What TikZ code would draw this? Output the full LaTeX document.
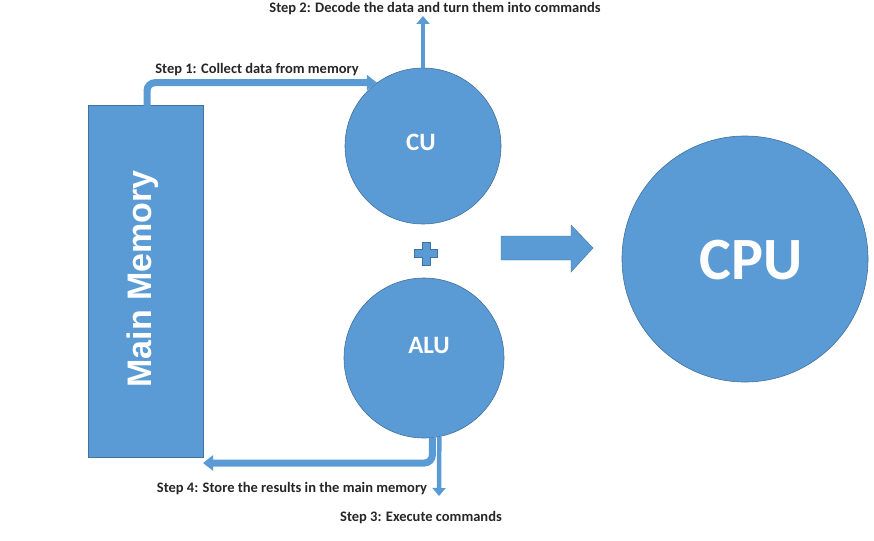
\documentclass[tikz,border=0pt]{standalone}
\usepackage{fontspec}
\setmainfont{Carlito}
\newfontfamily\arialfont{Liberation Sans}
\usetikzlibrary{arrows.meta,calc}
\definecolor{officeblue}{HTML}{5B9BD5}
\definecolor{officeedge}{HTML}{41719C}
\begin{document}
\begin{tikzpicture}[x=1pt,y=-1pt,
  blueshape/.style={fill=officeblue,draw=officeedge,line width=0.6pt,inner sep=0pt},
  ball/.style={blueshape,circle},
  whitetext/.style={text=white,font=\bfseries,inner sep=0pt},
  steplabel/.style={font=\fontsize{14.5}{16}\selectfont\bfseries,inner sep=0pt,text=black!85},
  flowthick/.style={draw=officeblue,line width=7pt,rounded corners=8pt,
    -{Triangle[length=10pt,width=15pt]}},
  flowthin/.style={draw=officeblue,line width=4.5pt,
    -{Triangle[length=8pt,width=13pt]}}
]
\useasboundingbox (0,0) rectangle (874,540);
% shapes
\node[blueshape,minimum width=115pt,minimum height=352pt] (mem) at (145.5,281) {};
\node[whitetext,rotate=90,font=\arialfont\bfseries\fontsize{34}{36}\selectfont] (memtext) at (143,279) {Main Memory};
\node[ball,minimum size=156pt] (cu) at (423,146) {};
\node[whitetext,font=\bfseries\fontsize{25}{28}\selectfont] (cutext) at (421,142) {CU};
\node[ball,minimum size=160pt] (alu) at (424,358) {};
\node[whitetext,font=\bfseries\fontsize{25}{28}\selectfont] (alutext) at (429,345.5) {ALU};
\node[ball,minimum size=246pt] (cpu) at (745,259) {};
\node[whitetext,font=\bfseries\fontsize{60}{66}\selectfont] (cputext) at (751,260) {CPU};
% plus sign
\fill[officeblue,draw=officeedge,line width=0.4pt]
  (422,242) -- (430,242) -- (430,249.5) -- (437.5,249.5) -- (437.5,257.5) -- (430,257.5)
  -- (430,265) -- (422,265) -- (422,257.5) -- (414.5,257.5) -- (414.5,249.5) -- (422,249.5) -- cycle;
% block arrow
\fill[officeblue,draw=officeedge,line width=0.4pt]
  (501,236) -- (571,236) -- (571,225) -- (593,248) -- (571,272) -- (571,260) -- (501,260) -- cycle;
% connector end points
\coordinate (s1start) at (147,106);
\coordinate (s2end) at (423,16);
\coordinate (s3end) at (439,496);
\coordinate (s4end) at (203,463);
% connectors
\draw[flowthick] (s1start) |- (cu.126);
\draw[flowthin] (cu.north) -- (s2end);
\draw[flowthin] (alu.-79) -- (s3end);
\draw[flowthick] (alu.-84) |- (s4end);
% labels
\node[steplabel] (s1) at (257,70) {Step 1: Collect data from memory};
\node[steplabel] (s2) at (435,9) {Step 2: Decode the data and turn them into commands};
\node[steplabel] (s3) at (421,518) {Step 3: Execute commands};
\node[steplabel] (s4) at (292,489) {Step 4: Store the results in the main memory};
\end{tikzpicture}
\end{document}
